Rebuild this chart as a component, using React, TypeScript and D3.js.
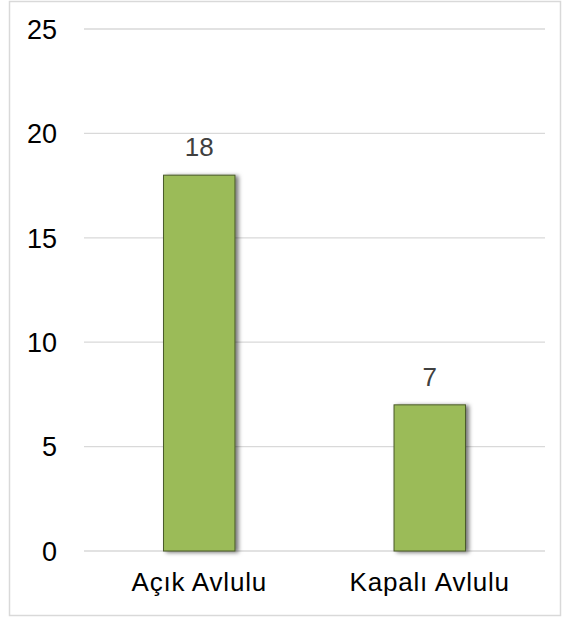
import React from "react";
import * as d3 from "d3";

const categories = ["Açık Avlulu", "Kapalı Avlulu"];
const values = [18, 7];
const yTicks = [0, 5, 10, 15, 20, 25];

export default function App() {
  const W = 562, H = 618;
  const left = 84, right = 545, top = 29, bottom = 551;
  const x = d3.scaleBand<string>().domain(categories).range([left, right]).paddingInner(0.69).paddingOuter(0.345);
  const y = d3.scaleLinear().domain([0, 25]).range([bottom, top]);
  const font = "'Liberation Sans', Arial, sans-serif";
  return (
    <svg width={W} height={H} style={{ position: "absolute", left: 0, top: 0 }}>
      <defs>
        <filter id="sh" x="-20%" y="-10%" width="150%" height="120%">
          <feDropShadow dx="3" dy="1" stdDeviation="2" floodColor="#000" floodOpacity="0.55" />
        </filter>
      </defs>
      <rect x={0} y={0} width={W} height={H} fill="#fff" />
      <rect x={9.5} y={1.5} width={551} height={614} fill="none" stroke="#d9d9d9" strokeWidth={1.5} />
      {yTicks.map((t) => (
        <g key={t}>
          <line x1={left} x2={right} y1={y(t)} y2={y(t)} stroke="#d9d9d9" strokeWidth={1.3} />
          <text x={57} y={y(t)} dy="0.36em" textAnchor="end" fontFamily={font} fontSize={27} fill="#000">{t}</text>
        </g>
      ))}
      {categories.map((c, i) => (
        <g key={c}>
          <rect x={x(c)!} y={y(values[i])} width={x.bandwidth()} height={y(0) - y(values[i])}
            fill="#9bbb59" stroke="#4a5a2a" strokeWidth={1} filter="url(#sh)" />
          <text x={x(c)! + x.bandwidth() / 2} y={y(values[i]) - 19} textAnchor="middle" fontFamily={font} fontSize={26} fill="#404040">{values[i]}</text>
          <text x={x(c)! + x.bandwidth() / 2} y={591} textAnchor="middle" fontFamily={font} fontSize={26} letterSpacing={0.8} fill="#000">{c}</text>
        </g>
      ))}
    </svg>
  );
}
